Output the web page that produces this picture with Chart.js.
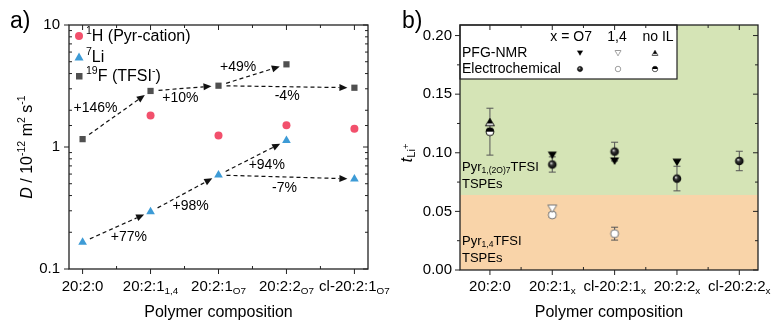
<!DOCTYPE html>
<html>
<head>
<meta charset="utf-8">
<script src="https://cdn.jsdelivr.net/npm/chart.js@4.4.0/dist/chart.umd.min.js"></script>
<style>
  body { margin: 0; background: #fff; }
  #wrap { display: flex; width: 771px; height: 320px; }
  .panel { position: relative; height: 320px; }
</style>
</head>
<body>
<div id="wrap">
  <div class="panel" style="width:390px"><canvas id="chartA"></canvas></div>
  <div class="panel" style="width:381px"><canvas id="chartB"></canvas></div>
</div>
<script>
// ---- panel a data : diffusion coefficients (10^-12 m2/s)
const catsA = ['20:2:0', '20:2:1', '20:2:1', '20:2:2', 'cl-20:2:1'];
const subsA = ['', '1,4', 'O7', 'O7', 'O7'];
const dH  = [null, 1.81, 1.24, 1.51, 1.41];
const dLi = [0.166, 0.295, 0.589, 1.13, 0.547];
const dF  = [1.16, 2.88, 3.18, 4.76, 3.06];
// arrows between compositions (from, to) + change labels
const arrowPairs = [[0, 1], [1, 2], [2, 3], [2, 4]];
const pctF  = ['+146%', '+10%', '+49%', '-4%'];
const pctLi = ['+77%', '+98%', '+94%', '-7%'];
const ticksA = [0.1, 1, 10];

// ---- panel b data : transference numbers
const catsB = ['20:2:0', '20:2:1', 'cl-20:2:1', '20:2:2', 'cl-20:2:2'];
const subsB = ['', 'x', 'x', 'x', 'x'];
const pfgO7    = [null, 0.098, 0.093, 0.092, null];
const ecO7     = [null, 0.090, 0.101, 0.078, 0.093];
const ecO7Err  = [null, 0.0065, 0.008, 0.0105, 0.0083];
const pfg14    = [null, 0.0525, null, null, null];
const ec14     = [null, 0.047, 0.031, null, null];
const ec14Err  = [null, 0.002, 0.0055, null, null];
const pfgNoIL  = [0.126, null, null, null, null];
const ecNoIL   = [0.118, null, null, null, null];
const ecNoILErr = [0.02, null, null, null, null];
const bandLimit = 0.064;

const FONT = '"Liberation Sans", Arial, sans-serif';
Chart.defaults.font.family = FONT;
Chart.defaults.color = '#000';

function pts(arr) {
  return arr.map((v, i) => ({ x: i, y: v })).filter(p => p.y !== null);
}

// rich text: parts [text, mode]  mode '' normal, 'i' italic, 'b' sub, 'p' sup, 'bp' sup of sub
function richParts(ctx, parts, size) {
  let w = 0;
  const out = parts.map(([t, m]) => {
    let s = size, dy = 0, st = '';
    if (m === 'b') { s = size * 0.66; dy = size * 0.3; }
    if (m === 'p') { s = size * 0.66; dy = -size * 0.38; }
    if (m === 'bp') { s = size * 0.55; dy = -size * 0.05; }
    if (m === 'i') st = 'italic ';
    ctx.font = st + s + 'px ' + FONT;
    const tw = ctx.measureText(t).width;
    const o = { t, font: ctx.font, dy, x: w };
    w += tw;
    return o;
  });
  return { out, w };
}
function drawRich(ctx, parts, x, y, size, align) {
  const r = richParts(ctx, parts, size);
  let x0 = x;
  if (align === 'center') x0 = x - r.w / 2;
  if (align === 'right') x0 = x - r.w;
  ctx.save();
  ctx.textBaseline = 'middle';
  ctx.textAlign = 'left';
  ctx.fillStyle = '#000';
  r.out.forEach(o => { ctx.font = o.font; ctx.fillText(o.t, x0 + o.x, y + o.dy); });
  ctx.restore();
}

function arrow(ctx, x1, y1, x2, y2) {
  const dx = x2 - x1, dy = y2 - y1, L = Math.hypot(dx, dy);
  const ux = dx / L, uy = dy / L;
  const ax = x1 + ux * 8, ay = y1 + uy * 8;
  const bx = x2 - ux * 7, by = y2 - uy * 7;
  const head = 8, hw = 3.5;
  ctx.save();
  ctx.strokeStyle = '#111';
  ctx.fillStyle = '#111';
  ctx.lineWidth = 1.2;
  ctx.setLineDash([4, 3]);
  ctx.beginPath();
  ctx.moveTo(ax, ay);
  ctx.lineTo(bx - ux * head, by - uy * head);
  ctx.stroke();
  ctx.setLineDash([]);
  ctx.beginPath();
  ctx.moveTo(bx, by);
  ctx.lineTo(bx - ux * head - uy * hw, by - uy * head + ux * hw);
  ctx.lineTo(bx - ux * head + uy * hw, by - uy * head - ux * hw);
  ctx.closePath();
  ctx.fill();
  ctx.restore();
}

function frameAndTicks(chart, leftMajorOut, leftMinorOut, isMajor) {
  const { ctx, chartArea: a, scales } = chart;
  const ys = scales.y, xs = scales.x;
  ctx.save();
  ctx.strokeStyle = '#222';
  ctx.lineWidth = 1.3;
  ctx.strokeRect(a.left, a.top, a.right - a.left, a.bottom - a.top);
  ctx.lineWidth = 1;
  ctx.beginPath();
  ys.ticks.forEach(t => {
    const y = ys.getPixelForValue(t.value);
    if (y < a.top - 0.5 || y > a.bottom + 0.5) return;
    const maj = isMajor(t.value);
    const len = maj ? 5 : 3;
    if (maj ? leftMajorOut : leftMinorOut) { ctx.moveTo(a.left - len, y); ctx.lineTo(a.left, y); }
    else { ctx.moveTo(a.left, y); ctx.lineTo(a.left + len, y); }
    ctx.moveTo(a.right, y); ctx.lineTo(a.right - len, y);
  });
  for (let i = 0; i < 5; i++) {
    const x = xs.getPixelForValue(i);
    ctx.moveTo(x, a.bottom); ctx.lineTo(x, a.bottom + 5);
    ctx.moveTo(x, a.top); ctx.lineTo(x, a.top + 5);
    if (i < 4) {
      const xm = xs.getPixelForValue(i + 0.5);
      ctx.moveTo(xm, a.bottom); ctx.lineTo(xm, a.bottom - 3);
      ctx.moveTo(xm, a.top); ctx.lineTo(xm, a.top + 3);
    }
  }
  ctx.stroke();
  ctx.restore();
}

function xLabels(chart, cats, subs) {
  const { ctx, chartArea: a, scales } = chart;
  cats.forEach((c, i) => {
    const parts = [[c, '']];
    if (subs[i]) parts.push([subs[i], 'b']);
    drawRich(ctx, parts, scales.x.getPixelForValue(i), 287, 15, 'center');
  });
  drawRich(ctx, [['Polymer composition', '']], (a.left + a.right) / 2, 313, 16, 'center');
}

const isDecade = v => Math.abs(Math.log10(v) - Math.round(Math.log10(v))) < 1e-6;

// ---------------- panel a
const panelA = {
  id: 'panelA',
  beforeDatasetsDraw(chart) {
    const { ctx, scales } = chart;
    const xs = scales.x, ys = scales.y;
    [dF, dLi].forEach(series => {
      arrowPairs.forEach(([i, j]) => {
        arrow(ctx, xs.getPixelForValue(i), ys.getPixelForValue(series[i]),
                   xs.getPixelForValue(j), ys.getPixelForValue(series[j]));
      });
    });
    // change labels, placed in data units
    const posF  = [[0.19, 2.09], [1.44, 2.52], [2.29, 4.53], [3.01, 2.62]];
    const posLi = [[0.68, 0.183], [1.59, 0.328], [2.71, 0.711], [2.97, 0.461]];
    posF.forEach((p, k) => drawRich(ctx, [[pctF[k], '']], xs.getPixelForValue(p[0]), ys.getPixelForValue(p[1]), 14, 'center'));
    posLi.forEach((p, k) => drawRich(ctx, [[pctLi[k], '']], xs.getPixelForValue(p[0]), ys.getPixelForValue(p[1]), 14, 'center'));
  },
  afterDraw(chart) {
    const { ctx } = chart;
    frameAndTicks(chart, true, false, isDecade);
    xLabels(chart, catsA, subsA);
    // legend
    ctx.save();
    ctx.fillStyle = '#f2506c';
    ctx.beginPath(); ctx.arc(79, 36, 4, 0, Math.PI * 2); ctx.fill();
    ctx.fillStyle = '#3d9bd6';
    ctx.beginPath(); ctx.moveTo(79, 52.5); ctx.lineTo(83.5, 60.5); ctx.lineTo(74.5, 60.5); ctx.closePath(); ctx.fill();
    ctx.fillStyle = '#505050';
    ctx.fillRect(76, 73, 6.5, 6.5);
    ctx.restore();
    drawRich(ctx, [['1', 'p'], ['H (Pyr-cation)', '']], 86, 37, 16, 'left');
    drawRich(ctx, [['7', 'p'], ['Li', '']], 86, 58, 16, 'left');
    drawRich(ctx, [['19', 'p'], ['F (TFSI', ''], ['-', 'p'], [')', '']], 86, 77, 16, 'left');
    // axis title
    ctx.save();
    ctx.translate(28, 147);
    ctx.rotate(-Math.PI / 2);
    drawRich(ctx, [['D', 'i'], [' / 10', ''], ['-12', 'p'], [' m', ''], ['2', 'p'], [' s', ''], ['-1', 'p']], 0, 0, 16, 'center');
    ctx.restore();
    drawRich(ctx, [['a)', '']], 10, 22, 23, 'left');
  }
};

new Chart(document.getElementById('chartA'), {
  type: 'scatter',
  data: {
    datasets: [
      { label: 'H', data: pts(dH), pointStyle: 'circle', pointRadius: 4, backgroundColor: '#f2506c', borderWidth: 0 },
      { label: 'Li', data: pts(dLi), pointStyle: 'triangle', pointRadius: 5, backgroundColor: '#3d9bd6', borderWidth: 0 },
      { label: 'F', data: pts(dF), pointStyle: 'rect', pointRadius: 4.4, backgroundColor: '#505050', borderWidth: 0 }
    ]
  },
  options: {
    responsive: true,
    maintainAspectRatio: false,
    animation: false,
    layout: { padding: { left: 0, top: 25, right: 22, bottom: 51 } },
    plugins: { legend: { display: false }, tooltip: { enabled: false } },
    scales: {
      x: { type: 'linear', min: -0.2, max: 4.2, display: false },
      y: {
        type: 'logarithmic', min: 0.1, max: 10,
        grid: { display: false, drawTicks: false },
        border: { display: false },
        afterFit(s) { s.width = 69; },
        ticks: {
          autoSkip: false, padding: 9, font: { size: 15 }, color: '#000',
          callback: v => ticksA.some(t => Math.abs(t - v) < 1e-9) ? String(v) : ''
        }
      }
    }
  },
  plugins: [panelA]
});

// ---------------- panel b markers
function mk(draw) {
  const c = document.createElement('canvas');
  c.width = 12; c.height = 12;
  draw(c.getContext('2d'));
  return c;
}
const triDown = (g) => { g.beginPath(); g.moveTo(1.5, 2.5); g.lineTo(10.5, 2.5); g.lineTo(6, 10); g.closePath(); };
const triUp = (g) => { g.beginPath(); g.moveTo(6, 2); g.lineTo(10.5, 9.5); g.lineTo(1.5, 9.5); g.closePath(); };
const mSphere = mk(g => {
  const gr = g.createRadialGradient(4.8, 4.6, 0.2, 6, 6, 4.6);
  gr.addColorStop(0, '#e8e8e8'); gr.addColorStop(0.35, '#333'); gr.addColorStop(1, '#000');
  g.fillStyle = gr; g.beginPath(); g.arc(6, 6, 4.3, 0, Math.PI * 2); g.fill();
});
const mHalf = mk(g => {
  g.fillStyle = '#fff'; g.beginPath(); g.arc(6, 6, 4, 0, Math.PI * 2); g.fill();
  g.fillStyle = '#000'; g.beginPath(); g.arc(6, 6, 4, Math.PI, 0); g.closePath(); g.fill();
  g.strokeStyle = '#000'; g.lineWidth = 0.9; g.beginPath(); g.arc(6, 6, 4, 0, Math.PI * 2); g.stroke();
});
const mOpen = mk(g => {
  g.fillStyle = '#fff'; g.beginPath(); g.arc(6, 6, 4, 0, Math.PI * 2); g.fill();
  g.strokeStyle = '#777'; g.lineWidth = 1; g.stroke();
});
const mTriDown = mk(g => { g.fillStyle = '#000'; triDown(g); g.fill(); });
const mTriDownOpen = mk(g => { g.fillStyle = '#fff'; triDown(g); g.fill(); g.strokeStyle = '#777'; g.lineWidth = 1; g.stroke(); });
const mTriUpHalf = mk(g => {
  g.fillStyle = '#000'; triUp(g); g.fill();
  g.save(); triUp(g); g.clip(); g.fillStyle = '#e4e4e4'; g.fillRect(0, 7.2, 12, 5); g.restore();
  g.strokeStyle = '#000'; g.lineWidth = 0.8; triUp(g); g.stroke();
});

const panelB = {
  id: 'panelB',
  beforeDraw(chart) {
    const { ctx, chartArea: a, scales } = chart;
    const yb = scales.y.getPixelForValue(bandLimit);
    ctx.save();
    ctx.fillStyle = '#d5e4b6';
    ctx.fillRect(a.left, a.top, a.right - a.left, yb - a.top);
    ctx.fillStyle = '#f9d4a9';
    ctx.fillRect(a.left, yb, a.right - a.left, a.bottom - yb);
    ctx.restore();
  },
  beforeDatasetsDraw(chart) {
    const { ctx, scales } = chart;
    const xs = scales.x, ys = scales.y;
    ctx.save();
    ctx.strokeStyle = '#555';
    ctx.lineWidth = 1;
    ctx.beginPath();
    [[ecO7, ecO7Err], [ec14, ec14Err], [ecNoIL, ecNoILErr]].forEach(([vals, errs]) => {
      vals.forEach((v, i) => {
        if (v === null) return;
        const x = xs.getPixelForValue(i);
        const y1 = ys.getPixelForValue(v - errs[i]), y2 = ys.getPixelForValue(v + errs[i]);
        ctx.moveTo(x, y1); ctx.lineTo(x, y2);
        ctx.moveTo(x - 3.5, y1); ctx.lineTo(x + 3.5, y1);
        ctx.moveTo(x - 3.5, y2); ctx.lineTo(x + 3.5, y2);
      });
    });
    ctx.stroke();
    ctx.restore();
    drawRich(ctx, [['Pyr', ''], ['1,(2O)7', 'b'], ['TFSI', '']], 72, 167, 13, 'left');
    drawRich(ctx, [['TSPEs', '']], 72, 184, 13, 'left');
    drawRich(ctx, [['Pyr', ''], ['1,4', 'b'], ['TFSI', '']], 72, 241, 13, 'left');
    drawRich(ctx, [['TSPEs', '']], 72, 258, 13, 'left');
  },
  afterDraw(chart) {
    const { ctx } = chart;
    // legend box
    ctx.save();
    ctx.fillStyle = '#fff';
    ctx.fillRect(70, 25, 217, 54);
    ctx.strokeStyle = '#222';
    ctx.lineWidth = 1.2;
    ctx.strokeRect(70, 25, 217, 54);
    ctx.restore();
    frameAndTicks(chart, true, true, v => Math.abs(v / 0.05 - Math.round(v / 0.05)) < 1e-6);
    drawRich(ctx, [['x = O7', '']], 202, 37, 14, 'right');
    drawRich(ctx, [['1,4', '']], 227, 37, 14, 'center');
    drawRich(ctx, [['no IL', '']], 268, 37, 14, 'center');
    drawRich(ctx, [['PFG-NMR', '']], 72, 53, 14, 'left');
    drawRich(ctx, [['Electrochemical', '']], 72, 69, 14, 'left');
    [[mTriDown, 190, 53], [mTriDownOpen, 228, 53], [mTriUpHalf, 265, 53],
     [mSphere, 190, 69], [mOpen, 228, 69], [mHalf, 265, 69]].forEach(([m, x, y]) => {
      ctx.drawImage(m, x - 4, y - 4, 8, 8);
    });
    xLabels(chart, catsB, subsB);
    ctx.save();
    ctx.translate(17, 153);
    ctx.rotate(-Math.PI / 2);
    drawRich(ctx, [['t', 'i'], ['Li', 'b'], ['+', 'bp']], 0, 0, 17, 'center');
    ctx.restore();
    drawRich(ctx, [['b)', '']], 12, 22, 23, 'left');
  }
};

new Chart(document.getElementById('chartB'), {
  type: 'scatter',
  data: {
    datasets: [
      { label: 'PFG O7', data: pts(pfgO7), pointStyle: mTriDown, pointRadius: 5 },
      { label: 'EC O7', data: pts(ecO7), pointStyle: mSphere, pointRadius: 5 },
      { label: 'PFG 1,4', data: pts(pfg14), pointStyle: mTriDownOpen, pointRadius: 5 },
      { label: 'EC 1,4', data: pts(ec14), pointStyle: mOpen, pointRadius: 5 },
      { label: 'PFG no IL', data: pts(pfgNoIL), pointStyle: mTriUpHalf, pointRadius: 5 },
      { label: 'EC no IL', data: pts(ecNoIL), pointStyle: mHalf, pointRadius: 5 }
    ]
  },
  options: {
    responsive: true,
    maintainAspectRatio: false,
    animation: false,
    layout: { padding: { left: 0, top: 25, right: 13, bottom: 50 } },
    plugins: { legend: { display: false }, tooltip: { enabled: false } },
    scales: {
      x: { type: 'linear', min: -0.48, max: 4.3, display: false },
      y: {
        type: 'linear', min: 0, max: 0.209,
        grid: { display: false, drawTicks: false },
        border: { display: false },
        afterFit(s) { s.width = 70; },
        ticks: {
          stepSize: 0.025, includeBounds: false, autoSkip: false, padding: 8,
          font: { size: 15 }, color: '#000',
          callback: v => Math.abs(v / 0.05 - Math.round(v / 0.05)) < 1e-6 ? v.toFixed(2) : ''
        }
      }
    }
  },
  plugins: [panelB]
});
</script>
</body>
</html>
